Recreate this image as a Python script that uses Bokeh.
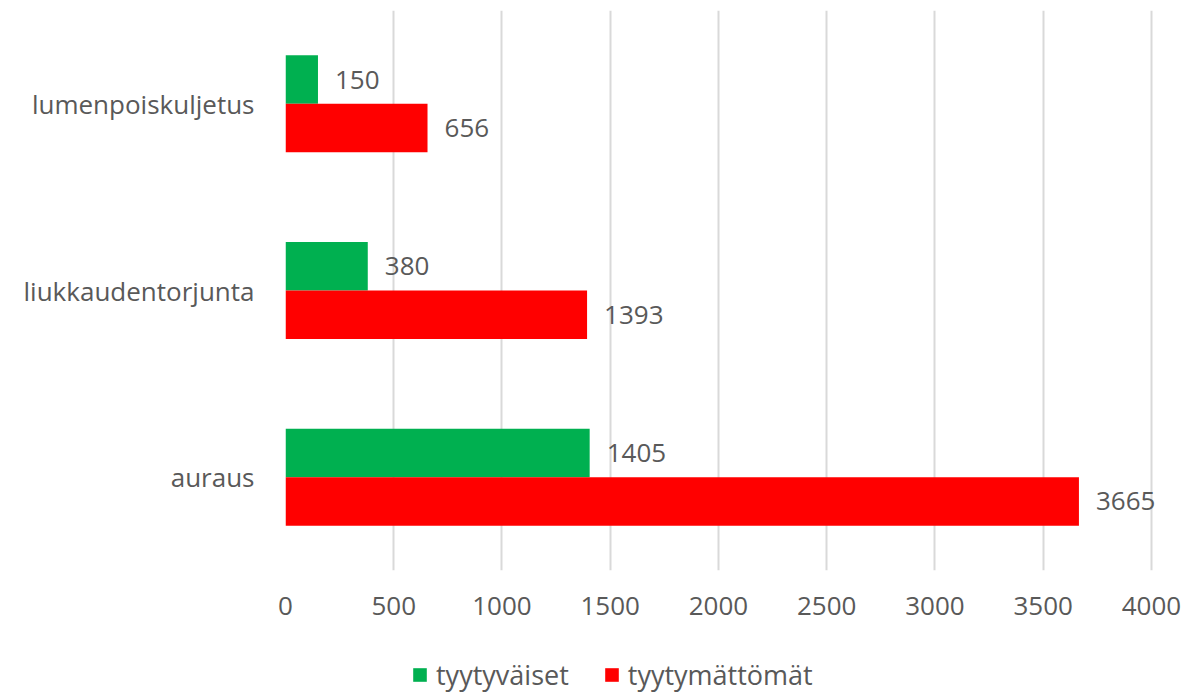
from bokeh.plotting import figure
from bokeh.models import ColumnDataSource, FactorRange, Range1d, FixedTicker, Legend, LegendItem
from bokeh.layouts import column
from bokeh.transform import dodge
from bokeh.core.properties import value
from bokeh.embed import file_html
from bokeh.resources import INLINE

categories = ["auraus", "liukkaudentorjunta", "lumenpoiskuljetus"]
tyytyvaiset = [1405, 380, 150]
tyytymattomat = [3665, 1393, 656]
series_names = ["tyytyväiset", "tyytymättömät"]
series_colors = ["#00b050", "#ff0000"]
x_ticks = [0, 500, 1000, 1500, 2000, 2500, 3000, 3500, 4000]

FONT = "Open Sans"
FS = "26px"
TXT = "#595959"

src = ColumnDataSource(dict(cat=categories, g=tyytyvaiset, r=tyytymattomat,
                            gl=[str(v) for v in tyytyvaiset],
                            rl=[str(v) for v in tyytymattomat]))

p = figure(frame_width=898, frame_height=560,
           y_range=FactorRange(*categories, range_padding=0),
           x_range=Range1d(0, 4148), output_backend="svg", toolbar_location=None,
           min_border_left=285, min_border_right=7, min_border_top=10, min_border_bottom=55)

p.hbar(y=dodge("cat", 0.13, range=p.y_range), right="g", left=0, height=0.26,
       source=src, color=series_colors[0], line_color=None)
p.hbar(y=dodge("cat", -0.13, range=p.y_range), right="r", left=0, height=0.26,
       source=src, color=series_colors[1], line_color=None)

p.text(x="g", y=dodge("cat", 0.13, range=p.y_range), text="gl", source=src,
       x_offset=17, text_baseline="middle", text_align="left",
       text_font=value(FONT), text_font_size=FS, text_color=TXT)
p.text(x="r", y=dodge("cat", -0.13, range=p.y_range), text="rl", source=src,
       x_offset=17, text_baseline="middle", text_align="left",
       text_font=value(FONT), text_font_size=FS, text_color=TXT)

p.xaxis.ticker = FixedTicker(ticks=x_ticks)
p.xgrid.ticker = FixedTicker(ticks=x_ticks)
p.xgrid.grid_line_color = "#d9d9d9"
p.xgrid.grid_line_width = 2
p.ygrid.grid_line_color = None
p.outline_line_color = None

for ax in (p.xaxis, p.yaxis):
    ax.axis_line_color = None
    ax.major_tick_line_color = None
    ax.minor_tick_line_color = None
    ax.major_label_text_font = FONT
    ax.major_label_text_font_size = FS
    ax.major_label_text_color = TXT
p.xaxis.major_label_standoff = 20
p.yaxis.major_label_standoff = 25

# legend strip below the chart (its frame is aligned with the chart's frame)
lg = figure(width=1191, height=68, output_backend="svg", toolbar_location=None,
            x_axis_location=None, y_axis_location=None,
            x_range=Range1d(1e7, 1e7 + 1), y_range=FactorRange(*categories),
            min_border_left=0, min_border_right=0, min_border_top=0, min_border_bottom=0)
lg.outline_line_color = None
lg.xgrid.grid_line_color = None
lg.ygrid.grid_line_color = None
# zero-height, out-of-range copies of the series, used only for the legend swatches
r1 = lg.hbar(y="cat", right="g", left=0, height=0, source=src,
             color=series_colors[0], line_color=None)
r2 = lg.hbar(y="cat", right="r", left=0, height=0, source=src,
             color=series_colors[1], line_color=None)
legend = Legend(items=[LegendItem(label=series_names[0], renderers=[r1]),
                       LegendItem(label=series_names[1], renderers=[r2])],
                orientation="horizontal", location=(126, 0),
                label_text_font=FONT, label_text_font_size="27px", label_text_color=TXT,
                glyph_width=17, glyph_height=17, spacing=34, label_standoff=8,
                border_line_color=None, background_fill_alpha=0, padding=0, margin=0)
lg.add_layout(legend, "center")

open("out.html", "w").write(file_html(column(p, lg, spacing=0), INLINE))
